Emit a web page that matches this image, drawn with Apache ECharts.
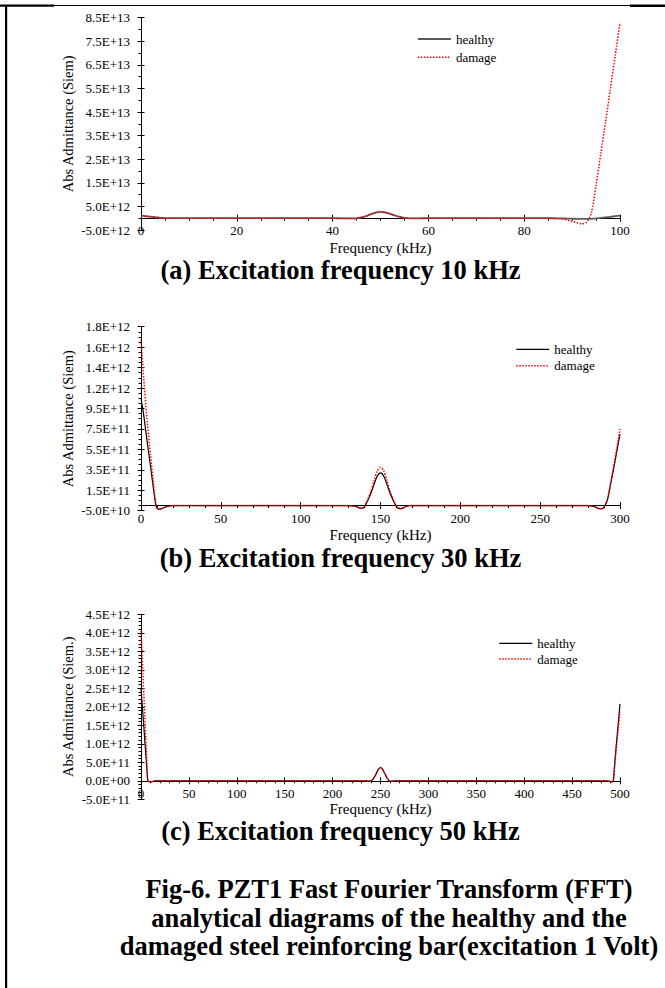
<!DOCTYPE html>
<html>
<head>
<meta charset="utf-8">
<script src="https://cdn.jsdelivr.net/npm/echarts@6/dist/echarts.min.js"></script>
<style>
  html, body { margin: 0; padding: 0; background: #fff; }
  #fig { width: 665px; height: 988px; }
</style>
</head>
<body>
<div id="fig"></div>
<script>
// (a) excitation 10 kHz — frequency (kHz) and absolute admittance (Siem)
const freqA = [0, 1, 2, 3, 4, 5, 6, 10, 20, 30, 40, 42, 44, 45, 46, 47, 48, 49, 50, 51, 52, 53, 54, 55, 56, 58, 60, 70, 80, 85,
  87, 88, 89, 90, 91, 92, 93, 94, 95, 96, 97, 98, 99, 100];
const healthyA = [1.1e12, 0.9e12, 0.65e12, 0.4e12, 0.2e12, 0.05e12, 0, 0, 0, 0, 0, -0.05e12, -0.1e12, -0.05e12,
  0.3e12, 0.9e12, 1.7e12, 2.35e12, 2.7e12, 2.45e12, 1.85e12, 1.15e12, 0.55e12, 0.15e12, -0.05e12, -0.05e12, 0, 0, 0, 0,
  -0.05e12, -0.1e12, -0.15e12, -0.2e12, -0.25e12, -0.3e12, -0.3e12, -0.25e12, -0.1e12, 0.1e12, 0.35e12, 0.6e12, 0.85e12, 1.1e12];
const damageA = [0.9e12, 0.75e12, 0.55e12, 0.35e12, 0.15e12, 0.05e12, 0, 0, 0, 0, 0, -0.05e12, -0.1e12, -0.05e12,
  0.3e12, 0.9e12, 1.7e12, 2.35e12, 2.7e12, 2.45e12, 1.85e12, 1.15e12, 0.55e12, 0.15e12, -0.05e12, -0.05e12, 0, 0, 0, -0.05e12,
  -0.15e12, -0.35e12, -0.75e12, -1.3e12, -1.9e12, -2.4e12, -1.7e12, 2.0e12, 14e12, 27.5e12, 41e12, 55e12, 69e12, 83e12];
const yLabelsA = ['-5.0E+12', '5.0E+12', '1.5E+13', '2.5E+13', '3.5E+13', '4.5E+13', '5.5E+13', '6.5E+13', '7.5E+13', '8.5E+13'];

// (b) excitation 30 kHz
const freqB = [0, 1, 2, 3, 4, 6, 8, 9, 10, 11, 13, 16, 20, 50, 100, 130, 135, 137, 139, 140,
  142, 144, 146, 148, 150, 152, 154, 156, 158, 160, 161, 163, 165, 168, 200, 250, 280, 284, 287, 289, 290,
  292, 294, 296, 298, 300];
const healthyB = [10.5e11, 9.6e11, 8.5e11, 7.3e11, 6.1e11, 3.8e11, 1.4e11, 0.3e11, -0.25e11, -0.35e11,
  -0.3e11, -0.1e11, 0, 0, 0, 0, -0.1e11, -0.25e11, -0.25e11, -0.1e11,
  0.5e11, 1.2e11, 2.1e11, 2.9e11, 3.2e11, 2.9e11, 2.1e11, 1.2e11, 0.5e11, -0.1e11,
  -0.25e11, -0.3e11, -0.15e11, 0, 0, 0, 0, -0.1e11, -0.3e11, -0.3e11, -0.15e11,
  0.5e11, 2.0e11, 3.6e11, 5.3e11, 7.0e11];
const damageB = [16.2e11, 14.0e11, 11.8e11, 9.8e11, 8.0e11, 4.9e11, 1.9e11, 0.5e11, -0.2e11, -0.35e11,
  -0.3e11, -0.1e11, 0, 0, 0, 0, -0.1e11, -0.25e11, -0.25e11, -0.1e11,
  0.6e11, 1.4e11, 2.45e11, 3.4e11, 3.75e11, 3.4e11, 2.45e11, 1.4e11, 0.6e11, -0.1e11,
  -0.25e11, -0.3e11, -0.15e11, 0, 0, 0, 0, -0.1e11, -0.3e11, -0.3e11, -0.15e11,
  0.5e11, 2.1e11, 3.8e11, 5.6e11, 7.5e11];
const yLabelsB = ['-5.0E+10', '1.5E+11', '3.5E+11', '5.5E+11', '7.5E+11', '9.5E+11', '1.2E+12', '1.4E+12', '1.6E+12', '1.8E+12'];

// (c) excitation 50 kHz
const freqC = [0, 1, 2, 3, 4, 5, 6, 7, 8, 10, 12, 15, 20, 50, 100, 200, 235, 238, 240,
  242, 244, 246, 248, 250, 252, 254, 256, 258, 260, 262, 265, 300, 400, 480, 485, 488, 490,
  492, 493, 494, 496, 498, 500];
const healthyC = [2.5e12, 2.15e12, 1.8e12, 1.45e12, 1.08e12, 0.72e12, 0.36e12, 0.02e12, -0.02e12,
  -0.03e12, -0.02e12, 0, 0, 0, 0, 0, 0, -0.01e12, 0,
  0.04e12, 0.12e12, 0.22e12, 0.32e12, 0.36e12, 0.32e12, 0.22e12, 0.12e12, 0.03e12, -0.01e12,
  -0.01e12, 0, 0, 0, 0, 0, -0.01e12, -0.02e12,
  -0.03e12, 0, 0.3e12, 0.93e12, 1.5e12, 2.08e12];
const damageC = [4.05e12, 3.48e12, 2.9e12, 2.32e12, 1.74e12, 1.16e12, 0.58e12, 0.02e12, -0.02e12,
  -0.03e12, -0.02e12, 0, 0, 0, 0, 0, 0, -0.01e12, 0,
  0.04e12, 0.12e12, 0.22e12, 0.31e12, 0.35e12, 0.31e12, 0.22e12, 0.12e12, 0.03e12, -0.01e12,
  -0.01e12, 0, 0, 0, 0, 0, -0.01e12, -0.02e12,
  -0.03e12, 0, 0.27e12, 0.84e12, 1.36e12, 1.87e12];
const yLabelsC = ['-5.0E+11', '0.0E+00', '5.0E+11', '1.0E+12', '1.5E+12', '2.0E+12', '2.5E+12', '3.0E+12', '3.5E+12', '4.0E+12', '4.5E+12'];

const seriesNames = ['healthy', 'damage'];
const subtitles = ['(a) Excitation frequency 10 kHz', '(b) Excitation frequency 30 kHz', '(c) Excitation frequency 50 kHz'];
const captionLines = [
  'Fig-6. PZT1 Fast Fourier Transform (FFT)',
  'analytical diagrams of the healthy and the',
  'damaged steel reinforcing bar(excitation 1 Volt)'
];

const SERIF = '"Liberation Serif", "Times New Roman", serif';
const RED_DOTS = { color: '#ff0000', width: 1.5, type: [1.5, 1.5] };
// legend swatches are plain line segments (no marker)
const NO_MARKER = { color: 'rgba(0,0,0,0)', borderWidth: 0, opacity: 0 };

// per-panel layout and axis settings
const panels = [
  { freq: freqA, healthy: healthyA, damage: damageA, yLabels: yLabelsA, yName: 'Abs Admittance (Siem)',
    grid: { left: 141, top: 17.7, width: 479, height: 212.3 },
    x: { max: 100, interval: 20, minor: 4 }, y: { min: -5e12, max: 8.5e13, interval: 1e13, minor: 2 },
    healthyStyle: { color: '#5a5a5a', width: 1.8, type: 'solid' },
    legend: { left: 417, top: 32, itemGap: 4.3 }, xNameGap: 22.5, subY: 270 },
  { freq: freqB, healthy: healthyB, damage: damageB, yLabels: yLabelsB, yName: 'Abs Admittance (Siem)',
    grid: { left: 141, top: 326.7, width: 479, height: 184 },
    x: { max: 300, interval: 50, minor: 5 }, y: { min: -5e10, max: 1.75e12, interval: 2e11, minor: 4 },
    healthyStyle: { color: '#000', width: 1.2, type: 'solid' },
    legend: { left: 515.5, top: 342.3, itemGap: 2.4 }, xNameGap: 21.5, subY: 557.5 },
  { freq: freqC, healthy: healthyC, damage: damageC, yLabels: yLabelsC, yName: 'Abs Admittance (Siem.)',
    grid: { left: 141, top: 614.3, width: 479, height: 185 },
    x: { max: 500, interval: 50, minor: 5 }, y: { min: -5e11, max: 4.5e12, interval: 5e11, minor: 5 },
    healthyStyle: { color: '#000', width: 1.2, type: 'solid' },
    legend: { left: 498.5, top: 636.3, itemGap: 1.7 }, xNameGap: 20.5, subY: 830.5 }
];

const grid = [], xAxis = [], yAxis = [], series = [], legend = [], graphic = [];

panels.forEach((p, i) => {
  grid.push(p.grid);
  const xMain = xAxis.length, yMain = yAxis.length;
  const y = p.y;
  // the frequency axis sits on the zero line: lift it from the grid bottom
  const zeroLift = -p.grid.height * (0 - y.min) / (y.max - y.min);

  xAxis.push({
    type: 'value', gridIndex: i, min: 0, max: p.x.max, interval: p.x.interval, position: 'bottom', offset: zeroLift,
    name: 'Frequency (kHz)', nameLocation: 'middle', nameGap: p.xNameGap, nameMoveOverlap: false,
    nameTextStyle: { fontFamily: SERIF, fontSize: 15, color: '#000' },
    axisLine: { show: true, onZero: false, lineStyle: { color: '#000', width: 1 } },
    axisTick: { show: true, inside: false, length: 3.5, lineStyle: { color: '#000', width: 1 } },
    minorTick: { show: true, splitNumber: p.x.minor, length: 2.5, lineStyle: { color: '#000', width: 1 } },
    axisLabel: { fontFamily: SERIF, fontSize: 13, color: '#000', margin: 6 },
    splitLine: { show: false }, minorSplitLine: { show: false }
  });
  // second set of ticks pointing into the plot, so major ticks cross the axis
  xAxis.push({
    type: 'value', gridIndex: i, min: 0, max: p.x.max, interval: p.x.interval, position: 'bottom', offset: zeroLift,
    axisLine: { show: false, onZero: false },
    axisTick: { show: true, inside: true, length: 3.5, lineStyle: { color: '#000', width: 1 } },
    axisLabel: { show: false }, splitLine: { show: false }
  });

  const yl = p.yLabels;
  yAxis.push({
    type: 'value', gridIndex: i, min: y.min, max: y.max, interval: y.interval, position: 'left',
    name: p.yName, nameLocation: 'middle', nameGap: 66, nameRotate: 90, nameMoveOverlap: false,
    nameTextStyle: { fontFamily: SERIF, fontSize: 14.5, color: '#000' },
    axisLine: { show: true, onZero: false, lineStyle: { color: '#000', width: 1 } },
    axisTick: { show: true, inside: false, length: 3.5, lineStyle: { color: '#000', width: 1 } },
    minorTick: { show: true, splitNumber: y.minor, length: 2.5, lineStyle: { color: '#000', width: 1 } },
    axisLabel: {
      fontFamily: SERIF, fontSize: 13, color: '#000', margin: 11,
      formatter: v => yl[Math.round((v - y.min) / y.interval)] || ''
    },
    splitLine: { show: false }, minorSplitLine: { show: false }
  });
  yAxis.push({
    type: 'value', gridIndex: i, min: y.min, max: y.max, interval: y.interval, position: 'left',
    axisLine: { show: false, onZero: false },
    axisTick: { show: true, inside: true, length: 3.5, lineStyle: { color: '#000', width: 1 } },
    axisLabel: { show: false }, splitLine: { show: false }
  });

  const hs = p.healthyStyle;
  series.push({
    type: 'line', name: seriesNames[0], xAxisIndex: xMain, yAxisIndex: yMain,
    data: p.freq.map((f, k) => [f, p.healthy[k]]),
    symbol: 'none', smooth: 0.25, lineStyle: hs, itemStyle: { color: hs.color }, z: 2
  });
  series.push({
    type: 'line', name: seriesNames[1], xAxisIndex: xMain, yAxisIndex: yMain,
    data: p.freq.map((f, k) => [f, p.damage[k]]),
    symbol: 'none', smooth: 0.25, lineStyle: RED_DOTS, itemStyle: { color: RED_DOTS.color }, z: 3
  });

  legend.push({
    orient: 'vertical', left: p.legend.left, top: p.legend.top, itemGap: p.legend.itemGap,
    itemWidth: 33, itemHeight: 14, padding: 0, selectedMode: false,
    textStyle: { fontFamily: SERIF, fontSize: 13, color: '#000', lineHeight: 14 },
    data: [
      { name: seriesNames[0], lineStyle: hs, itemStyle: NO_MARKER },
      { name: seriesNames[1], lineStyle: RED_DOTS, itemStyle: NO_MARKER }
    ]
  });

  graphic.push({
    type: 'text', x: 340.5, y: p.subY,
    style: { text: subtitles[i], font: 'bold 26.5px ' + SERIF, fill: '#000', align: 'center', verticalAlign: 'middle' }
  });
});

// figure caption
captionLines.forEach((line, k) => {
  graphic.push({
    type: 'text', x: 389, y: 889 + k * 28.5,
    style: { text: line, font: 'bold 26.5px ' + SERIF, fill: '#000', align: 'center', verticalAlign: 'middle' }
  });
});

// page frame
graphic.push(
  { type: 'rect', shape: { x: 0, y: 5, width: 665, height: 1 }, style: { fill: '#000' } },
  { type: 'rect', shape: { x: 0, y: 4.5, width: 54, height: 2.2 }, style: { fill: '#000' } },
  { type: 'rect', shape: { x: 630, y: 4.5, width: 35, height: 2.5 }, style: { fill: '#000' } },
  { type: 'rect', shape: { x: 5, y: 5, width: 2.2, height: 983 }, style: { fill: '#000' } }
);

const chart = echarts.init(document.getElementById('fig'), null, { renderer: 'svg' });
chart.setOption({
  animation: false,
  backgroundColor: '#fff',
  grid, xAxis, yAxis, series, legend, graphic
});
</script>
</body>
</html>
